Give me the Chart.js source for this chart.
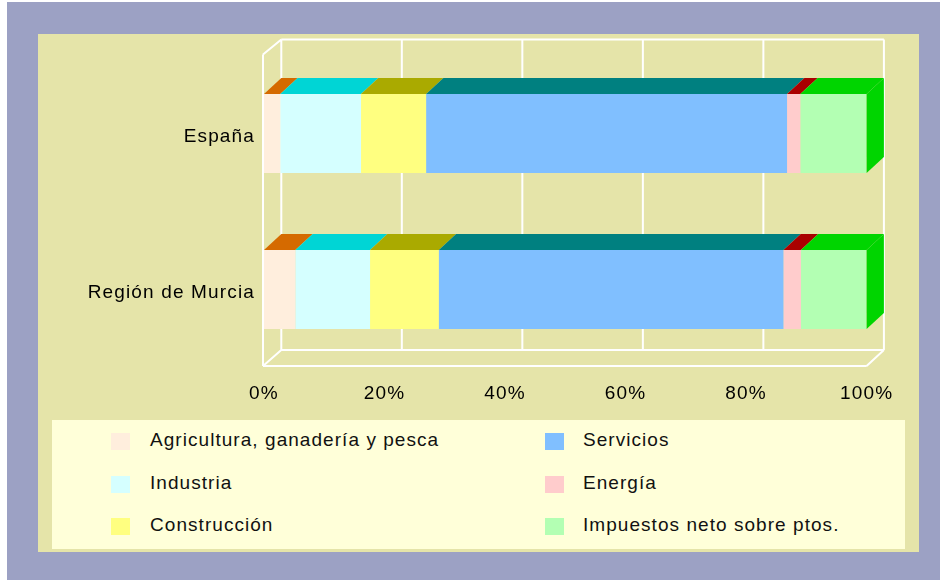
<!DOCTYPE html>
<html><head><meta charset="utf-8">
<script src="https://cdn.jsdelivr.net/npm/chart.js@4"></script>
<style>
html,body{margin:0;padding:0;background:#fff;}
body{width:940px;height:580px;position:relative;overflow:hidden;font-family:"Liberation Sans",Arial,sans-serif;}
#outer{position:absolute;left:7px;top:2px;width:933px;height:578px;background:#9CA1C4;}
#inner{position:absolute;left:38px;top:34px;width:881px;height:518px;background:#E5E4A9;}
#legend{position:absolute;left:52px;top:420px;width:853px;height:129px;background:#FFFFD9;}
.lt{position:absolute;height:24px;line-height:24px;font-size:19px;letter-spacing:1.05px;color:#111;white-space:nowrap;}
.sw{position:absolute;width:19px;height:17px;}
#c{position:absolute;left:0;top:0;}
</style></head>
<body>
<div id="outer"></div>
<div id="inner"></div>
<div id="legend"></div>
<canvas id="c" width="940" height="580"></canvas>
<script>
const categories = ['España', 'Región de Murcia'];
const seriesNames = ['Agricultura, ganadería y pesca', 'Industria', 'Construcción', 'Servicios', 'Energía', 'Impuestos neto sobre ptos.'];
const agricultura = [2.7, 5.2];
const industria = [13.4, 12.4];
const construccion = [10.8, 11.4];
const servicios = [59.9, 57.2];
const energia = [2.2, 2.9];
const impuestos = [11.0, 10.9];
const xTicks = [0, 20, 40, 60, 80, 100];
const frontColors = ['#FFEEDD', '#D5FFFF', '#FFFF80', '#80BFFF', '#FFCCCC', '#B3FFB3'];
const topColors = ['#D56A00', '#00D5D5', '#AAAA00', '#008080', '#AA0000', '#00D500'];

const seriesValues = [agricultura, industria, construccion, servicios, energia, impuestos];
const FONT = '"Liberation Sans", Arial, sans-serif';
const DX = 17.3, DY = 16;

// HTML legend (two columns, column-major)
const legendEl = document.getElementById('legend');
const rowTops = [433.3, 476, 518.3];
seriesNames.forEach((name, i) => {
  const col = Math.floor(i / 3), row = i % 3;
  const sw = document.createElement('div');
  sw.className = 'sw';
  sw.style.background = frontColors[i];
  sw.style.left = ((col ? 545 : 111) - 52) + 'px';
  sw.style.top = (rowTops[row] - 420) + 'px';
  legendEl.appendChild(sw);
  const t = document.createElement('div');
  t.className = 'lt';
  t.textContent = name;
  t.style.left = ((col ? 583 : 150) - 52) + 'px';
  t.style.top = (rowTops[row] - 5 - 420) + 'px';
  legendEl.appendChild(t);
});

const depthPlugin = {
  id: 'depth',
  beforeDraw(chart) { chart.ctx.letterSpacing = '1.15px'; },
  beforeDatasetsDraw(chart) {
    const { ctx, chartArea: a, scales: { x } } = chart;
    const x0 = x.getPixelForValue(0), x1 = x.getPixelForValue(100);
    const bt = a.top - DY, bb = a.bottom - DY - 1.5, fb = a.bottom - 1.5;
    ctx.save();
    ctx.strokeStyle = '#FFFFFF';
    ctx.lineWidth = 2;
    ctx.beginPath();
    xTicks.forEach(v => {
      const px = x.getPixelForValue(v) + DX;
      ctx.moveTo(px, bt); ctx.lineTo(px, bb);
    });
    ctx.moveTo(x0 + DX, bt); ctx.lineTo(x1 + DX, bt);
    ctx.moveTo(x0 + DX, bb); ctx.lineTo(x1 + DX, bb);
    ctx.moveTo(x0 - 1, a.top - 1); ctx.lineTo(x0 - 1, fb);
    ctx.moveTo(x0 - 1, a.top - 1); ctx.lineTo(x0 + DX, bt);
    ctx.moveTo(x0 - 1, fb); ctx.lineTo(x1, fb);
    ctx.moveTo(x0 - 1, fb); ctx.lineTo(x0 + DX, bb);
    ctx.moveTo(x1, fb); ctx.lineTo(x1 + DX, bb);
    ctx.stroke();
    ctx.restore();
  },
  afterDatasetsDraw(chart) {
    const ctx = chart.ctx;
    ctx.save();
    const n = chart.data.datasets.length;
    chart.data.datasets.forEach((ds, i) => {
      const meta = chart.getDatasetMeta(i);
      meta.data.forEach(el => {
        const p = el.getProps(['x', 'y', 'base', 'height'], true);
        const top = p.y - p.height / 2, bot = p.y + p.height / 2;
        ctx.fillStyle = topColors[i];
        ctx.beginPath();
        ctx.moveTo(p.base, top); ctx.lineTo(p.x, top);
        ctx.lineTo(p.x + DX, top - DY); ctx.lineTo(p.base + DX, top - DY);
        ctx.closePath(); ctx.fill();
        if (i === n - 1) {
          ctx.beginPath();
          ctx.moveTo(p.x, top); ctx.lineTo(p.x + DX, top - DY);
          ctx.lineTo(p.x + DX, bot - DY); ctx.lineTo(p.x, bot);
          ctx.closePath(); ctx.fill();
        }
      });
    });
    ctx.restore();
  }
};

new Chart(document.getElementById('c'), {
  type: 'bar',
  data: {
    labels: categories,
    datasets: seriesNames.map((name, i) => ({
      label: name,
      data: seriesValues[i],
      backgroundColor: frontColors[i],
      borderWidth: 0,
      categoryPercentage: 1,
      barPercentage: 0.508
    }))
  },
  options: {
    responsive: false,
    animation: false,
    indexAxis: 'y',
    layout: { padding: { left: 0, right: 73.4, top: 55.5, bottom: 172.5 } },
    plugins: { legend: { display: false }, tooltip: { enabled: false } },
    scales: {
      x: {
        stacked: true, min: 0, max: 100, position: 'bottom',
        grid: { display: false, drawTicks: false }, border: { display: false },
        afterBuildTicks: s => { s.ticks = xTicks.map(v => ({ value: v })); },
        ticks: { callback: v => v + '%', font: { family: FONT, size: 19 }, color: '#000', padding: 15, maxRotation: 0, autoSkip: false },
        afterFit: s => { s.height = 40; }
      },
      y: {
        stacked: true,
        grid: { display: false, drawTicks: false }, border: { display: false },
        ticks: { font: { family: FONT, size: 19 }, color: '#000', padding: 9, labelOffset: 3.3 },
        afterFit: s => { s.width = 264; }
      }
    }
  },
  plugins: [depthPlugin]
});
</script>
</body></html>
